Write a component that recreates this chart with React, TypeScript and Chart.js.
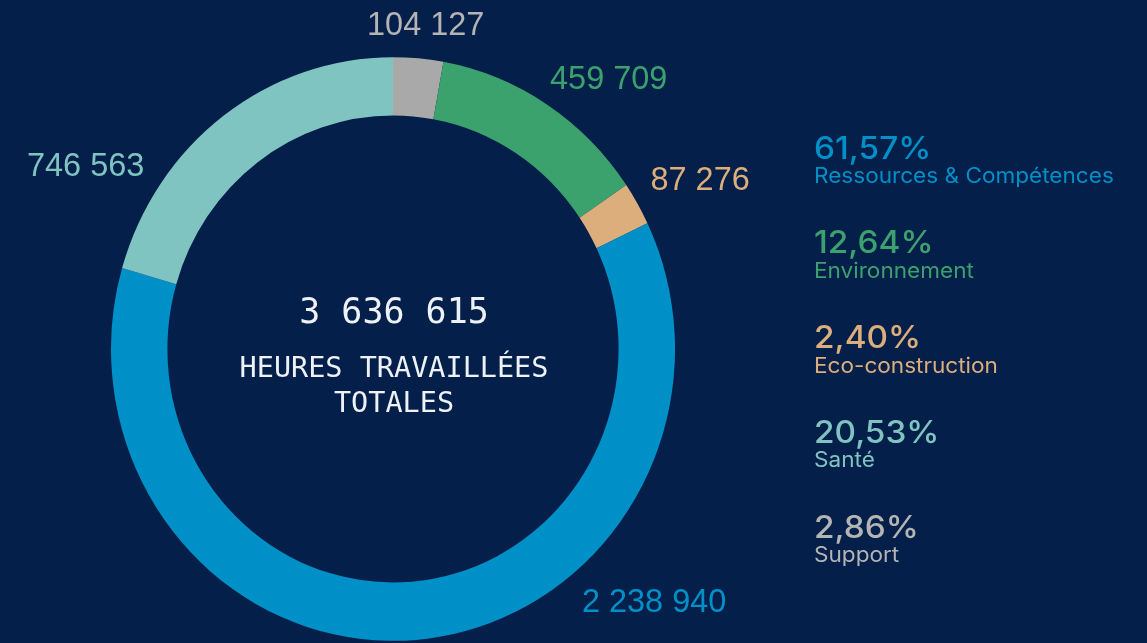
import React, { useEffect, useRef } from "react";
import { Chart, registerables } from "chart.js";

Chart.register(...registerables);

// ---- data (donut order, clockwise from 12 o'clock) ----
const categories = ["Support", "Environnement", "Eco-construction", "Ressources & Compétences", "Santé"];
const hours = [104127, 459709, 87276, 2238940, 746563];
const sliceColors = ["#a9a9a9", "#3ba26d", "#dcae7c", "#0090c8", "#80c4c2"];
const labelColors = ["#b4b4b4", "#3ba26d", "#dcae7c", "#0090c8", "#80c4c2"];
const legendOrder = ["Ressources & Compétences", "Environnement", "Eco-construction", "Santé", "Support"];
const centerTitleLines = ["HEURES TRAVAILLÉES", "TOTALES"];
// value label anchors (text centre x, baseline y) relative to donut centre, in outer-radius units
const labelOffsets = [
  [0.116, -1.113],
  [0.765, -0.922],
  [1.089, -0.564],
  [0.926, 0.933],
  [-1.09, -0.613],
];

const BG = "#041f4a";
const Y_STRETCH = 1.035;

const fmtNum = (n: number) => String(n).replace(/\B(?=(\d{3})+(?!\d))/g, " ");
const total = hours.reduce((a, b) => a + b, 0);
const fmtPct = (v: number) => ((v / total) * 100).toFixed(2).replace(".", ",") + "%";

const ellipsePlugin = {
  id: "ellipse",
  beforeDatasetsDraw(chart: any) {
    const arc = chart.getDatasetMeta(0).data[0];
    if (!arc) return;
    const ctx = chart.ctx;
    ctx.save();
    ctx.translate(arc.x, arc.y);
    ctx.scale(1, Y_STRETCH);
    ctx.translate(-arc.x, -arc.y);
  },
  afterDatasetsDraw(chart: any) {
    chart.ctx.restore();
  },
};

const textPlugin = {
  id: "texts",
  afterDraw(chart: any) {
    const ctx = chart.ctx as CanvasRenderingContext2D;
    const arcs = chart.getDatasetMeta(0).data as any[];
    if (!arcs.length) return;
    const cx = arcs[0].x;
    const cy = arcs[0].y;
    const R = arcs[0].outerRadius;

    // centre text
    ctx.save();
    ctx.fillStyle = "#eef1f6";
    ctx.textAlign = "center";
    ctx.textBaseline = "alphabetic";
    ctx.font = '35px "DejaVu Sans Mono", monospace';
    ctx.fillText(fmtNum(total), cx + 1, cy - 26.5);
    ctx.font = '28.5px "DejaVu Sans Mono", monospace';
    ctx.fillText(centerTitleLines[0], cx + 1, cy + 27.5);
    ctx.fillText(centerTitleLines[1], cx + 1, cy + 62.5);
    ctx.restore();

    // value labels
    arcs.forEach((arc, i) => {
      const [ox, oy] = labelOffsets[i];
      const x = cx + ox * R;
      const y = cy + oy * R;
      ctx.save();
      ctx.translate(x, y);
      ctx.scale(0.955, 1);
      ctx.fillStyle = labelColors[i];
      ctx.textAlign = "center";
      ctx.textBaseline = "alphabetic";
      ctx.font = '34px "Liberation Sans", Arial, sans-serif';
      ctx.fillText(fmtNum(hours[i]), 0, 0);
      ctx.restore();
    });

    // legend
    const lx = 814;
    const firstBase = 158.5;
    const step = 94.75;
    legendOrder.forEach((name, k) => {
      const i = categories.indexOf(name);
      const base = firstBase + k * step;
      ctx.save();
      ctx.fillStyle = labelColors[i];
      ctx.textAlign = "left";
      ctx.textBaseline = "alphabetic";
      ctx.translate(lx, base);
      ctx.scale(1.075, 1);
      ctx.font = '500 31px Inter, "Noto Sans", sans-serif';
      ctx.fillText(fmtPct(hours[i]), 0, 0);
      ctx.font = '21px Inter, "Noto Sans", sans-serif';
      ctx.fillText(name, 0, 24.5);
      ctx.restore();
    });
  },
};

export default function App() {
  const ref = useRef<HTMLCanvasElement | null>(null);

  useEffect(() => {
    document.body.style.margin = "0";
    document.body.style.background = BG;
    const canvas = ref.current;
    if (!canvas) return;
    const chart = new Chart(canvas, {
      type: "doughnut",
      data: {
        labels: categories,
        datasets: [
          {
            data: hours,
            backgroundColor: sliceColors,
            borderWidth: 0,
            hoverOffset: 0,
          },
        ],
      },
      options: {
        responsive: false,
        animation: false,
        devicePixelRatio: 1,
        cutout: "80%",
        layout: { padding: { left: 111, right: 472, top: 67, bottom: 12 } },
        plugins: {
          legend: { display: false },
          tooltip: { enabled: false },
        },
        events: [],
      },
      plugins: [ellipsePlugin, textPlugin],
    });
    return () => chart.destroy();
  }, []);

  return (
    <div style={{ width: 1147, height: 643, background: BG }}>
      <canvas ref={ref} width={1147} height={643} style={{ display: "block" }} />
    </div>
  );
}
